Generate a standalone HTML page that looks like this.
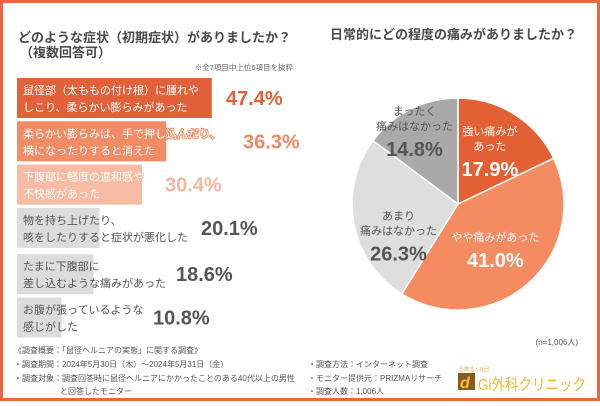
<!DOCTYPE html>
<html><head><meta charset="utf-8"><style>
body{margin:0;width:600px;height:401px;overflow:hidden;background:#fff;font-family:"Liberation Sans","Noto Sans CJK JP",sans-serif}
svg text{font-family:"Liberation Sans","Noto Sans CJK JP",sans-serif}
</style></head><body>
<svg id="c" width="600" height="401" viewBox="0 0 600 401">
<rect x="1.5" y="1.5" width="597" height="398" fill="#fff" stroke="#e8673c" stroke-width="3"/>
<text x="18" y="42" font-size="13" font-weight="bold" fill="#4a4a4a">どのような症状（初期症状）がありましたか？</text>
<text x="20" y="57" font-size="13" font-weight="bold" fill="#4a4a4a">（複数回答可）</text>
<text x="293" y="70" font-size="7.5" fill="#666" text-anchor="end">※全7項目中上位6項目を抜粋</text>
<g id="bars"></g>
<text x="330" y="39" font-size="13" font-weight="bold" fill="#4a4a4a">日常的にどの程度の痛みがありましたか？</text>
<g id="pie"></g>
<text x="578" y="345" font-size="8" fill="#555" text-anchor="end">(n=1,006人)</text>
<g font-size="8" fill="#555">
<text x="14" y="353">《調査概要：「鼠径ヘルニアの実態」に関する調査》</text>
<text x="14" y="367">・調査期間：2024年5月30日（木）～2024年5月31日（金）</text>
<text x="14" y="381">・調査対象：調査回答時に鼠径ヘルニアにかかったことのある40代以上の男性</text>
<text x="60" y="394">と回答したモニター</text>
<text x="308" y="367">・調査方法：インターネット調査</text>
<text x="308" y="381">・モニター提供元：PRIZMAリサーチ</text>
<text x="308" y="394">・調査人数：1,006人</text>
</g>
<g>
<text x="459" y="371" font-size="5" fill="#e8b64a">医療法人社団</text>
<rect x="458" y="373" width="17" height="17" fill="#8a5a1a"/>
<text x="460" y="388" font-size="16" font-style="italic" font-weight="bold" fill="#f0c040">d</text>
<text x="478" y="390" font-size="16" fill="#f0b830" textLength="108" lengthAdjust="spacingAndGlyphs">Gi外科クリニック</text>
</g>
</svg>
<script>
const barLabels=[["鼠径部（太ももの付け根）に腫れや","しこり、柔らかい膨らみがあった"],["柔らかい膨らみは、手で押し込んだり、","横になったりすると消えた"],["下腹部に軽度の違和感や","不快感があった"],["物を持ち上げたり、","咳をしたりすると症状が悪化した"],["たまに下腹部に","差し込むような痛みがあった"],["お腹が張っているような","感じがした"]];
const barValues=[47.4,36.3,30.4,20.1,18.6,10.8];
const pieLabels=[["強い痛みが","あった"],["やや痛みがあった"],["あまり","痛みはなかった"],["まったく","痛みはなかった"]];
const pieValues=[17.9,41.0,26.3,14.8];
const NS="http://www.w3.org/2000/svg";
function mk(t,a,p){const e=document.createElementNS(NS,t);for(const k in a)e.setAttribute(k,a[k]);p.appendChild(e);return e;}
const barFill=["#e2603a","#f18c66","#f8bba3","#dcdcdc","#dcdcdc","#dcdcdc"];
const valFill=["#e2603a","#f08a63","#f6b79e","#555","#555","#555"];
const txtFill=["#fff","#fff","#fff","#555","#555","#555"];
const valX=[226,243,165,201,176,153];
const bx=17,scale=4.11,bh=40,y0=78,step=43.3;
const xs=v=>bx+v*scale;
const g=document.getElementById('bars');
barValues.forEach((v,i)=>{
 const y=y0+i*step+(i>=4?3:0);
 const r=mk('rect',{x:bx,y:y,width:xs(v)-bx,height:bh,fill:barFill[i]},g);
 
 
 const st=i<3?{stroke:barFill[i],'stroke-width':2,'paint-order':'stroke'}:{};
 [0,1].forEach(j=>{
  const t=mk('text',Object.assign({x:23,y:y+16+j*17,'font-size':11,fill:txtFill[i]},st),g);t.textContent=barLabels[i][j];
  
  
 });
 const tv=mk('text',{x:valX[i],y:y+27,'font-size':20,'font-weight':'bold',fill:valFill[i]},g);tv.textContent=v.toFixed(1)+'%';
 
 
});
const pg=document.getElementById('pie');
const cx=458,cy=204,R=106;
const pieFill=["#e35f34","#f58b60","#dedede","#a9a9a9"];
const pieTxt=["#fff","#fff","#555","#555"];
const nudge=[[-2,0],[-5,-3],[3,19],[-15,-17]];
const tot=pieValues.reduce((a,b)=>a+b,0);
let a=0;
pieValues.forEach((v,i)=>{
 const a1=a,a2=a+v/tot*2*Math.PI;a=a2;
 const p=(t)=>[cx+R*Math.sin(t),cy-R*Math.cos(t)];
 const [x1,y1]=p(a1),[x2,y2]=p(a2);
 const s=mk('path',{d:`M${cx},${cy}L${x1},${y1}A${R},${R} 0 ${a2-a1>Math.PI?1:0} 1 ${x2},${y2}Z`,fill:pieFill[i],stroke:'#fff','stroke-width':1.5},pg);
 
 
 const m=(a1+a2)/2,rr=R*0.6;
 const lx=cx+rr*Math.sin(m)+nudge[i][0],ly=cy-rr*Math.cos(m)+nudge[i][1];
 const lines=pieLabels[i];
 const h=(lines.length-1)*15+23;
 const top=ly-h/2;
 lines.forEach((L,j)=>{const t=mk('text',{x:lx,y:top+j*15+4,'font-size':11,'text-anchor':'middle',fill:pieTxt[i]},pg);t.textContent=L;
  
  });
 const tv=mk('text',{x:lx,y:top+h+7,'font-size':20,'font-weight':'bold','text-anchor':'middle',fill:pieTxt[i]},pg);tv.textContent=v.toFixed(1)+'%';
 
 
});
</script>
</body></html>
